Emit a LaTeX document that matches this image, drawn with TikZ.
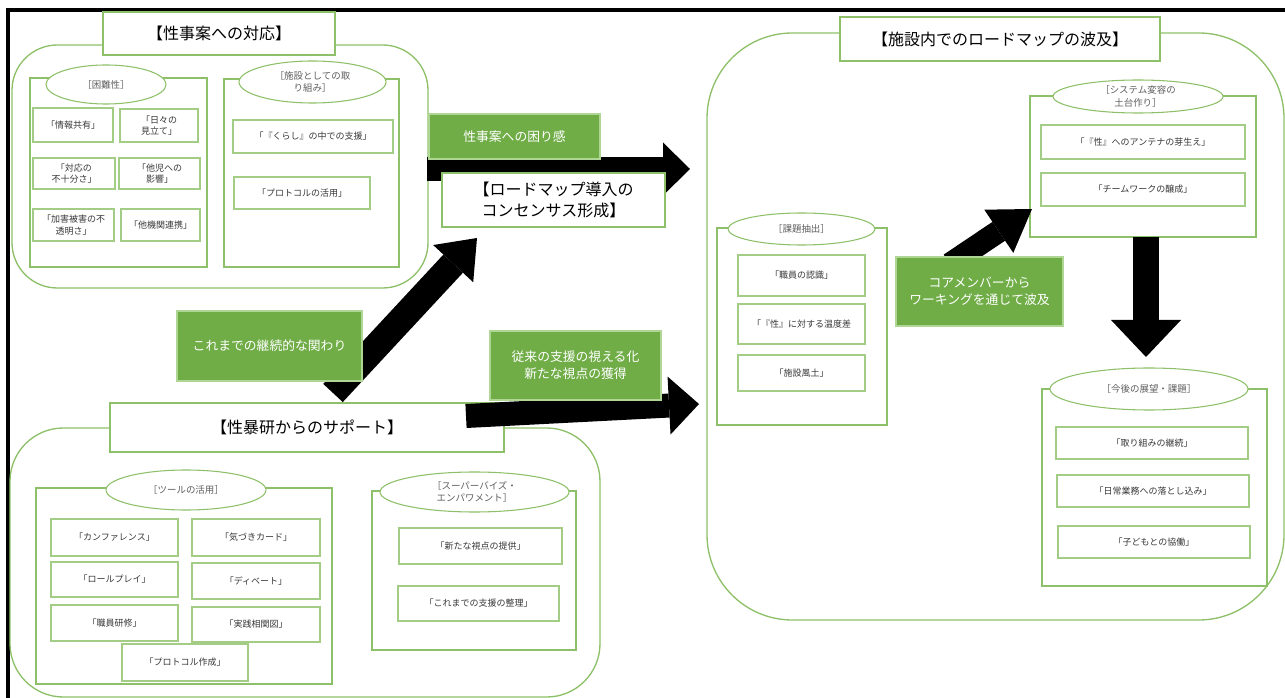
\documentclass[tikz,border=0pt]{standalone}
\usepackage{fontspec}
\setmainfont{Noto Sans CJK JP}
\usetikzlibrary{shapes.geometric,arrows.meta}
\definecolor{grp}{RGB}{141,192,104}
\definecolor{itm}{RGB}{163,205,133}
\definecolor{gfill}{RGB}{112,173,71}
\definecolor{gline}{RGB}{176,214,150}
\definecolor{txt}{RGB}{55,55,55}
\definecolor{etxt}{RGB}{95,95,95}
\newcommand\bx[7][]{\node[#1,minimum width={(#5-#3)*0.75pt},minimum height={(#6-#4)*0.75pt}] (#2) at ({(#3+#5)/2},{(#4+#6)/2}) {#7};}
\begin{document}
\begin{tikzpicture}[x=0.75pt,y=-0.75pt,
 group/.style={draw=grp,line width=1pt,inner sep=0pt,outer sep=0pt},
 titlebox/.style={draw=grp,fill=white,line width=1pt,inner sep=0pt,align=center,font=\fontsize{12}{16}\selectfont},
 subbox/.style={draw=grp,line width=0.8pt,inner sep=0pt},
 ell/.style={ellipse,draw=grp,fill=white,line width=0.8pt,inner sep=0pt,align=center,text=etxt,font=\fontsize{7.1}{9.4}\selectfont},
 item/.style={draw=itm,line width=0.8pt,inner sep=0pt,align=center,text=txt,font=\fontsize{6.75}{8.4}\selectfont},
 gbox/.style={fill=gfill,draw=gline,line width=0.8pt,inner sep=0pt,align=center,text=white,font=\fontsize{9.6}{12.6}\selectfont},
 barrow/.style n args={3}{draw=black,line width=#1,-{Triangle[length=#2,width=#3,line width=0pt]}}
]
\useasboundingbox (0,0) rectangle (1285,698);
% frame
\coordinate (fbl) at (8,698); \coordinate (ftl) at (8,10); \coordinate (ftr) at (1285,10);
\draw[line width=2.8pt] (fbl) -- (ftl) -- (ftr);
% groups
\bx[group,rounded corners=34pt]{g1}{12}{45}{428}{288}{}
\bx[group,rounded corners=40pt]{g2}{10}{428}{600}{697}{}
\bx[group,rounded corners=64pt]{g3}{707}{33}{1284}{620}{}
% titles
\bx[titlebox]{t1}{103}{12}{335}{55}{【性事案への対応】}
\bx[titlebox]{t2}{110}{403}{504}{452}{【性暴研からのサポート】}
\bx[titlebox]{t3}{840}{17}{1160}{61}{【施設内でのロードマップの波及】}
% sub boxes
\bx[subbox]{s1}{30}{78}{207}{267}{}
\bx[ell]{e1}{46}{65}{166}{104}{［困難性］}
\bx[subbox]{s2}{224}{79}{399}{267}{}
\bx[ell]{e2}{239}{61}{386}{103}{［施設としての取\\り組み］}
\bx[subbox]{s4}{36}{488}{332}{684}{}
\bx[ell]{e4}{106}{470}{266}{510}{［ツールの活用］}
\bx[subbox]{s5}{372}{491}{576}{650}{}
\bx[ell]{e5}{380}{472}{569}{512}{［スーパーバイズ・\\エンパワメント］}
\bx[subbox]{s6}{717}{228}{887}{425}{}
\bx[ell]{e6}{728}{213}{875}{245}{［課題抽出］}
\bx[subbox]{s7}{1030}{96}{1256}{237}{}
\bx[ell]{e7}{1053}{80}{1223}{113}{［システム変容の\\土台作り］}
\bx[subbox]{s8}{1042}{389}{1267}{586}{}
\bx[ell]{e8}{1050}{368}{1248}{410}{［今後の展望・課題］}
% items
\bx[item]{i11}{33}{108}{113}{142}{「情報共有」}
\bx[item]{i12}{120}{109}{198}{142}{「日々の\\見立て」}
\bx[item]{i13}{33}{158}{115}{189}{「対応の\\不十分さ」}
\bx[item]{i14}{119}{158}{200}{189}{「他児への\\影響」}
\bx[item]{i15}{33}{209}{114}{241}{「加害被害の不\\透明さ」}
\bx[item]{i16}{121}{209}{200}{241}{「他機関連携」}
\bx[item]{i21}{233}{120}{393}{153}{「『くらし』の中での支援」}
\bx[item]{i22}{234}{177}{370}{209}{「プロトコルの活用」}
\bx[item]{i41}{51}{519}{178}{556}{「カンファレンス」}
\bx[item]{i42}{192}{519}{320}{556}{「気づきカード」}
\bx[item]{i43}{51}{562}{178}{597}{「ロールプレイ」}
\bx[item]{i44}{192}{563}{320}{599}{「ディベート」}
\bx[item]{i45}{51}{605}{178}{641}{「職員研修」}
\bx[item]{i46}{192}{607}{320}{642}{「実践相関図」}
\bx[item]{i47}{122}{644}{248}{681}{「プロトコル作成」}
\bx[item]{i51}{399}{528}{562}{564}{「新たな視点の提供」}
\bx[item]{i52}{398}{586}{559}{621}{「これまでの支援の整理」}
\bx[item]{i61}{738}{255}{865}{296}{「職員の認識」}
\bx[item]{i62}{738}{304}{865}{344}{「『性』に対する温度差}
\bx[item]{i63}{738}{355}{865}{391}{「施設風土」}
\bx[item]{i71}{1041}{125}{1245}{159}{「『性』へのアンテナの芽生え」}
\bx[item]{i72}{1041}{173}{1245}{206}{「チームワークの醸成」}
\bx[item]{i81}{1056}{427}{1248}{459}{「取り組みの継続」}
\bx[item]{i82}{1057}{475}{1249}{507}{「日常業務への落とし込み」}
\bx[item]{i83}{1058}{526}{1250}{558}{「子どもとの協働」}
% block arrows
\coordinate (a1s) at (427,169); \coordinate (a1e) at (690,169);
\draw[barrow={18pt}{20.25pt}{39.75pt}] (a1s) -- (a1e);
\coordinate (a2s) at (333,393); \coordinate (a2e) at (477,238);
\draw[barrow={20pt}{26.25pt}{41pt}] (a2s) -- (a2e);
\coordinate (a3s) at (466,416); \coordinate (a3e) at (699,404);
\draw[barrow={18pt}{22.5pt}{43.5pt}] (a3s) -- (a3e);
\coordinate (a4s) at (950,264); \coordinate (a4e) at (1032,209);
\draw[barrow={17pt}{30pt}{39pt}] (a4s) -- (a4e);
\coordinate (a5s) at (1146,237); \coordinate (a5e) at (1146,357);
\draw[barrow={19.5pt}{27.75pt}{52.5pt}] (a5s) -- (a5e);
% green and white label boxes
\bx[gbox]{gb1}{429}{114}{600}{159}{性事案への困り感}
\bx[titlebox]{wb}{442}{173}{665}{227}{【ロードマップ導入の\\コンセンサス形成】}
\bx[gbox]{gb2}{177}{311}{362}{381}{これまでの継続的な関わり}
\bx[gbox]{gb3}{490}{331}{661}{400}{従来の支援の視える化\\新たな視点の獲得}
\bx[gbox]{gb4}{896}{257}{1063}{326}{コアメンバーから\\ワーキングを通じて波及}
\end{tikzpicture}
\end{document}
